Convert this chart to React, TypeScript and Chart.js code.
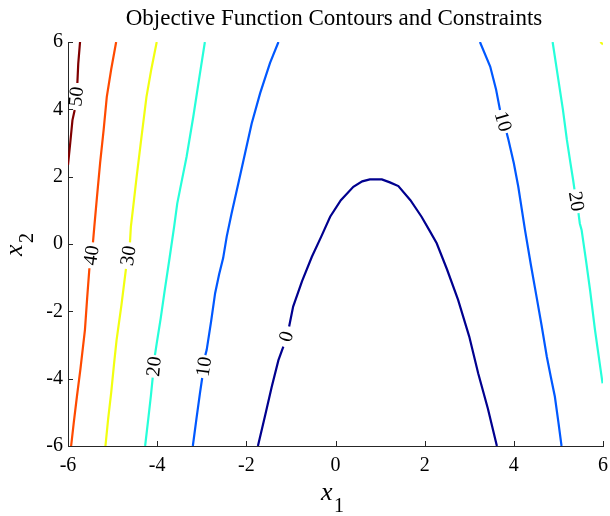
import React, { useEffect, useRef } from "react";
import { Chart, registerables } from "chart.js";

Chart.register(...registerables);

const titleText = "Objective Function Contours and Constraints";
const xTicks = [-6, -4, -2, 0, 2, 4, 6];
const yTicks = [-6, -4, -2, 0, 2, 4, 6];

const levels = [0, 10, 20, 30, 40, 50];
const levelColors = ["#00008F", "#0058FF", "#26FFDA", "#F2FF10", "#FF4A00", "#800000"];

// contour segments (x1, x2); a label sits in the gap between consecutive segments
const level0Curve = [
  [[-1.74, -6], [-1.58, -5.1], [-1.43, -4.24], [-1.28, -3.45], [-1.17, -3.05]],
  [[-1.04, -2.45], [-0.95, -1.86], [-0.75, -1.1], [-0.53, -0.38], [-0.32, 0.22], [-0.12, 0.81], [0.12, 1.3], [0.4, 1.7], [0.6, 1.86], [0.77, 1.92], [1.04, 1.92], [1.22, 1.83], [1.41, 1.72], [1.68, 1.3], [1.93, 0.81], [2.1, 0.42], [2.27, 0.02], [2.5, -0.75], [2.75, -1.66], [3.0, -2.75], [3.2, -3.84], [3.42, -4.9], [3.62, -6]],
];
const level10Left = [
  [[-1.28, 6], [-1.47, 5.37], [-1.69, 4.48], [-1.88, 3.58], [-2.03, 2.69], [-2.18, 1.8], [-2.33, 0.91], [-2.44, 0.22], [-2.52, -0.42], [-2.61, -0.9], [-2.7, -1.46], [-2.79, -2.3], [-2.89, -3.15], [-2.92, -3.3]],
  [[-2.99, -3.98], [-3.04, -4.43], [-3.12, -5.2], [-3.2, -6]],
];
const level10Right = [
  [[3.24, 6], [3.47, 5.27], [3.6, 4.6], [3.69, 3.98]],
  [[3.84, 3.3], [3.88, 3.09], [4.0, 2.4], [4.1, 1.7], [4.25, 0.42], [4.38, -0.6], [4.51, -1.57], [4.62, -2.4], [4.74, -3.35], [4.83, -3.95], [4.92, -4.53], [5.0, -5.3], [5.07, -6]],
];
const level20Left = [
  [[-2.93, 6], [-3.04, 5.07], [-3.19, 3.78], [-3.34, 2.59], [-3.49, 1.6], [-3.55, 1.2], [-3.62, 0.51], [-3.72, -0.4], [-3.83, -1.37], [-3.92, -2.2], [-4.01, -2.95], [-4.05, -3.3]],
  [[-4.1, -3.97], [-4.14, -4.5], [-4.2, -5.2], [-4.27, -6]],
];
const level20Right = [
  [[4.87, 6], [5.0, 4.87], [5.1, 4.0], [5.19, 3.09], [5.27, 2.4], [5.33, 1.9], [5.36, 1.62]],
  [[5.45, 0.92], [5.48, 0.61], [5.52, 0.42], [5.62, -0.5], [5.71, -1.37], [5.82, -2.55], [5.9, -3.3], [5.99, -4.14]],
];
const level30Curve = [
  [[-4.01, 6], [-4.13, 5.2], [-4.24, 4.37], [-4.35, 3.2], [-4.46, 2.0], [-4.52, 1.3], [-4.59, 0.51], [-4.61, 0.05]],
  [[-4.7, -0.74], [-4.8, -1.8], [-4.91, -2.85], [-4.97, -3.6], [-5.03, -4.4], [-5.1, -5.2], [-5.16, -6]],
];
const level30Corner = [[[5.94, 6], [6, 5.93]]];
const level40Curve = [
  [[-4.92, 6], [-5.03, 5.2], [-5.13, 4.37], [-5.2, 3.4], [-5.28, 2.4], [-5.35, 1.4], [-5.41, 0.51], [-5.44, 0.05]],
  [[-5.52, -0.72], [-5.57, -1.6], [-5.62, -2.55], [-5.72, -3.7], [-5.8, -4.53], [-5.87, -5.3], [-5.93, -6]],
];
const level50Curve = [
  [[-5.73, 6], [-5.77, 5.36], [-5.79, 4.78]],
  [[-5.85, 3.98], [-5.9, 3.68], [-5.95, 3.0], [-6.0, 2.35]],
];

const contours = [
  { level: 0, segments: level0Curve },
  { level: 10, segments: level10Left },
  { level: 10, segments: level10Right },
  { level: 20, segments: level20Left },
  { level: 20, segments: level20Right },
  { level: 30, segments: level30Curve },
  { level: 30, segments: level30Corner },
  { level: 40, segments: level40Curve },
  { level: 50, segments: level50Curve },
];

const SERIF = "'Liberation Serif', 'Times New Roman', serif";

const decorPlugin = {
  id: "decor",
  afterDatasetsDraw(chart: any) {
    const ctx = chart.ctx;
    const xs = chart.scales.x;
    const ys = chart.scales.y;
    const area = chart.chartArea;
    ctx.save();
    // contour labels
    ctx.fillStyle = "#000";
    ctx.font = `20px ${SERIF}`;
    ctx.textAlign = "center";
    ctx.textBaseline = "middle";
    contours.forEach((c) => {
      for (let i = 0; i + 1 < c.segments.length; i++) {
        const a = c.segments[i][c.segments[i].length - 1];
        const b = c.segments[i + 1][0];
        const ax = xs.getPixelForValue(a[0]);
        const ay = ys.getPixelForValue(a[1]);
        const bx = xs.getPixelForValue(b[0]);
        const by = ys.getPixelForValue(b[1]);
        let dx = bx - ax;
        let dy = by - ay;
        if (dx < 0) {
          dx = -dx;
          dy = -dy;
        }
        const ang = Math.atan2(dy, dx);
        ctx.save();
        ctx.translate((ax + bx) / 2, (ay + by) / 2);
        ctx.rotate(ang);
        ctx.fillText(String(c.level), 0, 1);
        ctx.restore();
      }
    });
    // inward ticks
    ctx.strokeStyle = "#262626";
    ctx.lineWidth = 1;
    ctx.beginPath();
    xTicks.forEach((t) => {
      const px = Math.round(xs.getPixelForValue(t)) + 0.5;
      ctx.moveTo(px, area.bottom);
      ctx.lineTo(px, area.bottom - 5);
    });
    yTicks.forEach((t) => {
      const py = Math.round(ys.getPixelForValue(t)) + 0.5;
      ctx.moveTo(area.left, py);
      ctx.lineTo(area.left + 5, py);
    });
    ctx.stroke();
    // title
    ctx.fillStyle = "#000";
    ctx.font = `23px ${SERIF}`;
    ctx.textAlign = "center";
    ctx.textBaseline = "alphabetic";
    ctx.fillText(titleText, 334, 25);
    // x label
    ctx.textAlign = "left";
    ctx.font = `italic 26px ${SERIF}`;
    ctx.fillText("x", 321, 500);
    ctx.font = `20px ${SERIF}`;
    ctx.fillText("1", 334, 512);
    // y label
    ctx.save();
    ctx.translate(22, 256);
    ctx.rotate(-Math.PI / 2);
    ctx.font = `italic 26px ${SERIF}`;
    ctx.fillText("x", 0, 0);
    ctx.font = `20px ${SERIF}`;
    ctx.fillText("2", 13, 11);
    ctx.restore();
    ctx.restore();
  },
};

export default function App() {
  const ref = useRef<HTMLCanvasElement | null>(null);
  useEffect(() => {
    document.body.style.margin = "0";
    const datasets: any[] = [];
    contours.forEach((c) => {
      const color = levelColors[levels.indexOf(c.level)];
      c.segments.forEach((seg) => {
        datasets.push({
          data: seg.map((p) => ({ x: p[0], y: p[1] })),
          showLine: true,
          borderColor: color,
          backgroundColor: color,
          borderWidth: 2.2,
          pointRadius: 0,
          tension: 0,
          fill: false,
        });
      });
    });
    const chart = new Chart(ref.current as HTMLCanvasElement, {
      type: "scatter",
      data: { datasets },
      options: {
        animation: false,
        responsive: false,
        devicePixelRatio: 1,
        layout: { padding: { top: 42, right: 7, left: 0, bottom: 0 } },
        plugins: { legend: { display: false }, tooltip: { enabled: false }, title: { display: false } },
        scales: {
          x: {
            type: "linear",
            min: -6,
            max: 6,
            afterBuildTicks: (s: any) => {
              s.ticks = xTicks.map((v) => ({ value: v }));
            },
            afterFit: (s: any) => {
              s.height = 70;
              s.paddingLeft = 0;
              s.paddingRight = 0;
            },
            grid: { display: false, drawTicks: false },
            border: { display: true, color: "#262626", width: 1 },
            ticks: { color: "#000", font: { family: SERIF, size: 20 }, padding: 8, maxRotation: 0, autoSkip: false },
          },
          y: {
            type: "linear",
            min: -6,
            max: 6,
            afterBuildTicks: (s: any) => {
              s.ticks = yTicks.map((v) => ({ value: v }));
            },
            afterFit: (s: any) => {
              s.width = 68;
              s.paddingTop = 0;
              s.paddingBottom = 0;
            },
            grid: { display: false, drawTicks: false },
            border: { display: true, color: "#262626", width: 1 },
            ticks: { color: "#000", font: { family: SERIF, size: 20 }, padding: 5, autoSkip: false },
          },
        },
      },
      plugins: [decorPlugin],
    });
    return () => chart.destroy();
  }, []);
  return (
    <div style={{ width: 610, height: 516 }}>
      <canvas ref={ref} width={610} height={516} style={{ display: "block" }} />
    </div>
  );
}
